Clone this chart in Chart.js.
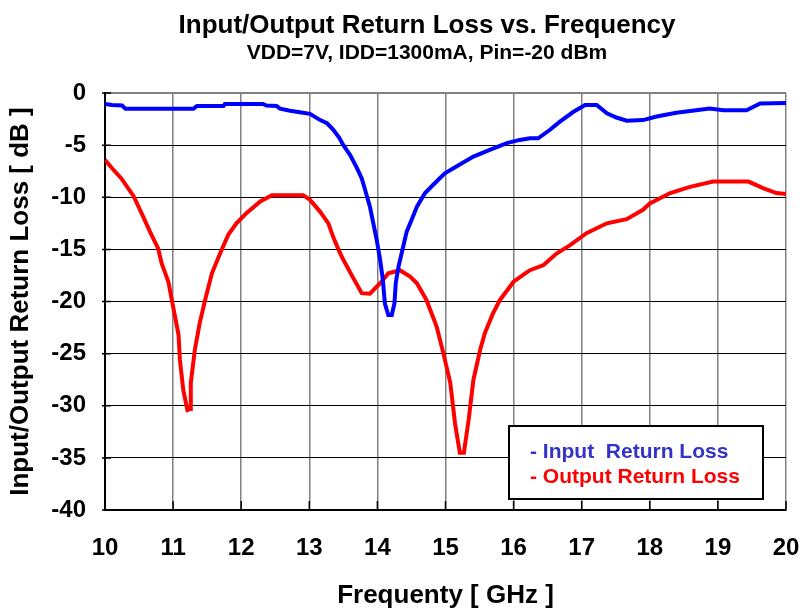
<!DOCTYPE html>
<html>
<head>
<meta charset="utf-8">
<script src="https://cdn.jsdelivr.net/npm/chart.js@4/dist/chart.umd.min.js"></script>
<style>
  html, body { margin: 0; padding: 0; background: #ffffff; }
  #wrap { width: 803px; height: 609px; }
</style>
</head>
<body>
<div id="wrap"><canvas id="c" width="803" height="609"></canvas></div>
<script>
// Text
const titleText = 'Input/Output Return Loss vs. Frequency';
const subtitleText = 'VDD=7V, IDD=1300mA, Pin=-20 dBm';
const xAxisTitle = 'Frequenty [ GHz ]';
const yAxisTitle = 'Input/Output Return Loss [ dB ]';
const seriesNames = ['Input  Return Loss', 'Output Return Loss'];
const seriesColors = ['#0000FF', '#FF0000'];
const legendColors = ['#3333CC', '#FF0000'];

// Axis ticks
const xTickValues = [10, 11, 12, 13, 14, 15, 16, 17, 18, 19, 20];
const yTickValues = [0, -5, -10, -15, -20, -25, -30, -35, -40];

// Input return loss (GHz, dB)
const inputFreq = [10.00, 10.10, 10.25, 10.30, 11.30, 11.35, 11.74, 11.76, 12.32, 12.37,
  12.52, 12.57, 12.72, 12.86, 13.01, 13.16, 13.26, 13.35, 13.44, 13.50,
  13.60, 13.70, 13.77, 13.82, 13.89, 13.94, 13.99, 14.04, 14.08, 14.11,
  14.16, 14.21, 14.25, 14.27, 14.31, 14.38, 14.43, 14.50, 14.58, 14.70,
  14.82, 14.99, 15.16, 15.41, 15.65, 15.90, 16.09, 16.24, 16.36, 16.53,
  16.68, 16.88, 17.05, 17.22, 17.37, 17.51, 17.66, 17.90, 18.10, 18.39,
  18.88, 19.08, 19.42, 19.62, 20.00];
const inputLoss = [-1.05, -1.15, -1.2, -1.5, -1.5, -1.25, -1.25, -1.05, -1.05, -1.2,
  -1.25, -1.5, -1.7, -1.85, -2.0, -2.6, -2.9, -3.5, -4.3, -5.0,
  -5.95, -7.2, -8.2, -9.3, -10.9, -12.5, -14.1, -16.0, -17.9, -20.2,
  -21.3, -21.3, -20.2, -18.2, -16.65, -14.7, -13.3, -12.2, -10.9, -9.6,
  -8.8, -7.7, -7.05, -6.1, -5.45, -4.8, -4.5, -4.35, -4.35, -3.55,
  -2.75, -1.8, -1.15, -1.15, -1.95, -2.35, -2.65, -2.6, -2.25, -1.9,
  -1.5, -1.65, -1.65, -1.0, -0.95];

// Output return loss (GHz, dB)
const outputFreq = [10.00, 10.10, 10.24, 10.42, 10.56, 10.66, 10.78, 10.83, 10.93, 11.00,
  11.08, 11.10, 11.15, 11.21, 11.25, 11.26, 11.32, 11.39, 11.47, 11.57,
  11.69, 11.81, 11.93, 12.08, 12.28, 12.45, 12.91, 13.01, 13.16, 13.28,
  13.35, 13.44, 13.50, 13.62, 13.77, 13.89, 14.04, 14.16, 14.33, 14.48,
  14.58, 14.72, 14.87, 14.97, 15.07, 15.14, 15.21, 15.27, 15.34, 15.41,
  15.51, 15.58, 15.70, 15.80, 16.00, 16.14, 16.24, 16.44, 16.63, 16.83,
  17.07, 17.37, 17.66, 17.90, 18.00, 18.30, 18.59, 18.93, 19.45, 19.67,
  19.86, 20.00];
const outputLoss = [-6.4, -7.2, -8.2, -9.9, -11.85, -13.3, -14.9, -16.3, -18.1, -20.5,
  -23.2, -25.6, -28.5, -30.4, -30.3, -27.8, -24.6, -22.1, -19.85, -17.3,
  -15.4, -13.6, -12.5, -11.5, -10.4, -9.8, -9.8, -10.25, -11.4, -12.5,
  -13.8, -15.2, -16.0, -17.45, -19.2, -19.25, -18.25, -17.3, -17.0, -17.6,
  -18.25, -19.85, -22.4, -25.0, -27.8, -31.7, -34.5, -34.5, -31.35, -27.5,
  -24.6, -23.0, -21.1, -19.85, -18.1, -17.45, -17.0, -16.5, -15.4, -14.6,
  -13.45, -12.5, -12.1, -11.2, -10.6, -9.6, -9.0, -8.5, -8.5, -9.15,
  -9.6, -9.7];

const FONT = "'Liberation Sans', Arial, Helvetica, sans-serif";
const toPoints = (xs, ys) => xs.map((x, i) => ({ x: x, y: ys[i] }));

// Heading drawn above the plot
const headingPlugin = {
  id: 'heading',
  afterDraw(chart, args, opts) {
    const ctx = chart.ctx;
    ctx.save();
    ctx.fillStyle = '#000';
    ctx.textAlign = 'center';
    ctx.textBaseline = 'alphabetic';
    ctx.font = 'bold 26px ' + FONT;
    ctx.fillText(opts.title, opts.centerX, opts.titleBaseline);
    ctx.font = 'bold 21px ' + FONT;
    ctx.fillText(opts.subtitle, opts.centerX, opts.subtitleBaseline);
    ctx.restore();
  }
};

// Short inward tick marks along the bottom and left axes
const innerTicksPlugin = {
  id: 'innerTicks',
  beforeDatasetsDraw(chart) {
    const ctx = chart.ctx;
    const xs = chart.scales.x, ys = chart.scales.y;
    const ca = chart.chartArea;
    ctx.save();
    ctx.strokeStyle = '#000';
    ctx.lineWidth = 1.5;
    ctx.beginPath();
    xs.ticks.forEach(t => {
      const px = xs.getPixelForValue(t.value);
      ctx.moveTo(px, ca.bottom);
      ctx.lineTo(px, ca.bottom - 9);
    });
    ys.ticks.forEach(t => {
      const py = ys.getPixelForValue(t.value);
      ctx.moveTo(ca.left - 3, py);
      ctx.lineTo(ca.left + 6, py);
    });
    ctx.stroke();
    ctx.restore();
  }
};

// Boxed text legend inside the plot, lower right
const boxLegendPlugin = {
  id: 'boxLegend',
  afterDraw(chart, args, opts) {
    const ctx = chart.ctx;
    const ca = chart.chartArea;
    const right = ca.right - opts.offsetRight;
    const bottom = ca.bottom - opts.offsetBottom;
    const left = right - opts.width;
    const top = bottom - opts.height;
    ctx.save();
    ctx.fillStyle = '#fff';
    ctx.fillRect(left, top, opts.width, opts.height);
    ctx.strokeStyle = '#000';
    ctx.lineWidth = 2;
    ctx.strokeRect(left, top, opts.width, opts.height);
    ctx.font = 'bold 21px ' + FONT;
    ctx.textAlign = 'left';
    ctx.textBaseline = 'alphabetic';
    chart.data.datasets.forEach((ds, i) => {
      ctx.fillStyle = opts.colors[i];
      ctx.fillText('- ' + ds.label, left + 21, top + 32 + i * 25);
    });
    ctx.restore();
  }
};

new Chart(document.getElementById('c'), {
  type: 'line',
  data: {
    datasets: [
      {
        label: seriesNames[0],
        data: toPoints(inputFreq, inputLoss),
        borderColor: seriesColors[0],
        backgroundColor: seriesColors[0],
        borderWidth: 4,
        pointRadius: 0,
        tension: 0,
        fill: false
      },
      {
        label: seriesNames[1],
        data: toPoints(outputFreq, outputLoss),
        borderColor: seriesColors[1],
        backgroundColor: seriesColors[1],
        borderWidth: 4,
        pointRadius: 0,
        tension: 0,
        fill: false
      }
    ]
  },
  options: {
    responsive: false,
    animation: false,
    devicePixelRatio: 1,
    layout: { padding: { top: 93, right: 17, bottom: 0, left: 0 } },
    scales: {
      x: {
        type: 'linear',
        min: 10,
        max: 20,
        afterBuildTicks: s => { s.ticks = xTickValues.map(v => ({ value: v })); },
        afterFit: s => { s.height = 99; s.paddingLeft = 0; s.paddingRight = 0; },
        ticks: {
          color: '#000',
          font: { family: FONT, size: 24, weight: 'bold' },
          padding: 24,
          maxRotation: 0,
          autoSkip: false
        },
        grid: { color: '#808080', lineWidth: 1.5, drawTicks: false },
        border: { color: '#000', width: 2 },
        title: {
          display: true,
          text: xAxisTitle,
          color: '#000',
          font: { family: FONT, size: 26, weight: 'bold' },
          padding: { top: 0, bottom: -2 }
        }
      },
      y: {
        type: 'linear',
        min: -40,
        max: 0,
        afterBuildTicks: s => { s.ticks = yTickValues.map(v => ({ value: v })); },
        afterFit: s => { s.width = 105; s.paddingTop = 0; s.paddingBottom = 0; },
        ticks: {
          color: '#000',
          font: { family: FONT, size: 24, weight: 'bold' },
          padding: 19,
          autoSkip: false
        },
        grid: {
          color: c => (c.tick && c.tick.value === 0) ? '#808080' : '#000',
          lineWidth: c => (c.tick && c.tick.value === 0) ? 2 : 1,
          drawTicks: false
        },
        border: { color: '#000', width: 2 },
        title: {
          display: true,
          text: yAxisTitle,
          color: '#000',
          font: { family: FONT, size: 26, weight: 'bold' },
          padding: { top: 5, bottom: 0 }
        }
      }
    },
    plugins: {
      legend: { display: false },
      tooltip: { enabled: false },
      heading: {
        title: titleText,
        subtitle: subtitleText,
        centerX: 427,
        titleBaseline: 33,
        subtitleBaseline: 59
      },
      boxLegend: {
        colors: legendColors,
        width: 254,
        height: 73,
        offsetRight: 23,
        offsetBottom: 11
      }
    }
  },
  plugins: [headingPlugin, innerTicksPlugin, boxLegendPlugin]
});
</script>
</body>
</html>
